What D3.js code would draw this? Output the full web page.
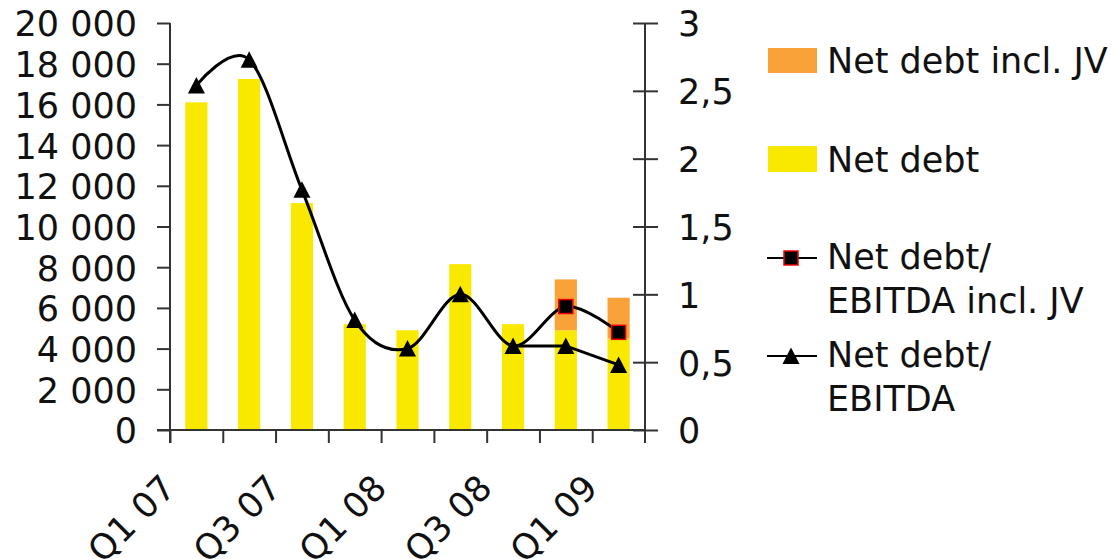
<!DOCTYPE html>
<html><head><meta charset="utf-8">
<script src="https://cdn.jsdelivr.net/npm/d3@7/dist/d3.min.js"></script>
<style>body{margin:0;background:#fff}svg{display:block}text{font-family:"DejaVu Sans",sans-serif;fill:#111}</style>
</head><body><svg id="c" width="1115" height="559"></svg>
<script>
// ---- data ----
const quarters = ["Q1 07","Q2 07","Q3 07","Q4 07","Q1 08","Q2 08","Q3 08","Q4 08","Q1 09"];
const shownLabels = ["Q1 07","Q3 07","Q1 08","Q3 08","Q1 09"];
const netDebt = [16100,17250,11150,5200,4900,8150,5200,4900,4500];
const netDebtInclJV = [null,null,null,null,null,null,null,7400,6500];
const ratio = [2.54,2.73,1.77,0.81,0.60,1.00,0.62,0.62,0.48];
const ratioInclJV = [2.54,2.73,1.77,0.81,0.60,1.00,0.62,0.91,0.72];
const leftTicks = [0,2000,4000,6000,8000,10000,12000,14000,16000,18000,20000];
const rightTicks = [0,0.5,1,1.5,2,2.5,3];
const legendItems = ["Net debt incl. JV","Net debt","Net debt/|EBITDA incl. JV","Net debt/|EBITDA"];

// ---- layout ----
const L = 170, R = 645, T = 23, B = 430;
const svg = d3.select("#c");
const loc = d3.formatLocale({decimal:",", thousands:" ", grouping:[3], currency:["",""]});
const fmtL = loc.format(",d");
const fmtR = v => loc.format("~g")(v);

const x = d3.scaleBand().domain(quarters).range([L,R]).paddingInner(0.58).paddingOuter(0.29);
const xEdge = d3.scaleLinear().domain([0, quarters.length]).range([L,R]);
const yL = d3.scaleLinear().domain([0,20000]).range([B,T]);
const yR = d3.scaleLinear().domain([0,3]).range([B,T]);
const cx = q => x(q) + x.bandwidth()/2;

const YELLOW = "#f9e800", ORANGE = "#f9a23a", AX = "#333";

// bars
svg.append("g").selectAll("rect").data(quarters).join("rect")
  .attr("x", q => x(q)).attr("width", x.bandwidth())
  .attr("y", (q,i) => yL(netDebt[i])).attr("height", (q,i) => yL(0) - yL(netDebt[i]))
  .attr("fill", YELLOW);
svg.append("g").selectAll("rect").data(quarters.filter((q,i)=>netDebtInclJV[i]!=null)).join("rect")
  .attr("x", q => x(q)).attr("width", x.bandwidth())
  .attr("y", q => yL(netDebtInclJV[quarters.indexOf(q)]))
  .attr("height", q => { const i = quarters.indexOf(q); return yL(netDebt[i]) - yL(netDebtInclJV[i]); })
  .attr("fill", ORANGE);

// left axis
const gL = svg.append("g").attr("transform", `translate(${L},0)`)
  .call(d3.axisLeft(yL).tickValues(leftTicks).tickFormat(fmtL).tickSize(13).tickPadding(20).tickSizeOuter(0));
gL.select(".domain").remove();
gL.selectAll("line").attr("stroke", AX).attr("stroke-width", 2);
gL.selectAll("text").style("font-size","35px").attr("dy","0.37em").attr("fill","#111");
svg.append("line").attr("x1",L).attr("x2",L).attr("y1",T).attr("y2",B+13).attr("stroke",AX).attr("stroke-width",2);

// right axis
const gR = svg.append("g").attr("transform", `translate(${R},0)`)
  .call(d3.axisRight(yR).tickValues(rightTicks).tickFormat(fmtR).tickSize(13).tickPadding(20).tickSizeOuter(0));
gR.select(".domain").remove();
gR.selectAll(".tick line").attr("x1",-12).attr("stroke", AX).attr("stroke-width", 2);
gR.selectAll("text").style("font-size","35px").attr("dy","0.37em").attr("fill","#111");
svg.append("line").attr("x1",R).attr("x2",R).attr("y1",T).attr("y2",B+13).attr("stroke",AX).attr("stroke-width",2);

// bottom axis
const gB = svg.append("g").attr("transform", `translate(0,${B})`)
  .call(d3.axisBottom(xEdge).tickValues(d3.range(0, quarters.length)).tickFormat("").tickSize(13).tickSizeOuter(0));
gB.select(".domain").remove();
gB.selectAll("line").attr("stroke", AX).attr("stroke-width", 2);
svg.append("line").attr("x1",L-13).attr("x2",R).attr("y1",B).attr("y2",B).attr("stroke",AX).attr("stroke-width",2);

// x labels
svg.append("g").selectAll("text").data(shownLabels).join("text")
  .attr("transform", q => `translate(${cx(q)-19},${B+60}) rotate(-45)`)
  .attr("text-anchor","end").style("font-size","35px").text(q => q);

// lines
const smooth = d3.line().x((d,i)=>cx(quarters[i])).y(d=>yR(d)).curve(d3.curveCardinal.tension(0));
svg.append("path").attr("d", smooth(ratioInclJV)).attr("fill","none").attr("stroke","#000").attr("stroke-width",3);
const straight = d3.line().defined((d,i)=>i>=6).x((d,i)=>cx(quarters[i])).y(d=>yR(d));
svg.append("path").attr("d", straight(ratio)).attr("fill","none").attr("stroke","#000").attr("stroke-width",3);

// markers
const tri = "M0,-8.5L8.5,8L-8.5,8Z";
svg.append("g").selectAll("path").data(ratio).join("path")
  .attr("d", tri).attr("transform",(d,i)=>`translate(${cx(quarters[i])},${yR(d)})`).attr("fill","#000");
svg.append("g").selectAll("rect").data(ratioInclJV.map((v,i)=>({v,i})).filter(d=>netDebtInclJV[d.i]!=null)).join("rect")
  .attr("x", d=>cx(quarters[d.i])-7).attr("y", d=>yR(d.v)-7).attr("width",14).attr("height",14)
  .attr("fill","#000").attr("stroke","#e00").attr("stroke-width",1.5);

// legend
const lg = svg.append("g");
lg.append("rect").attr("x",768).attr("y",48).attr("width",49).attr("height",25).attr("fill",ORANGE);
lg.append("rect").attr("x",768).attr("y",146).attr("width",49).attr("height",26).attr("fill",YELLOW);
lg.append("line").attr("x1",767).attr("x2",817).attr("y1",258).attr("y2",258).attr("stroke","#000").attr("stroke-width",2);
lg.append("rect").attr("x",784).attr("y",251).attr("width",14).attr("height",14).attr("fill","#000").attr("stroke","#e00").attr("stroke-width",1.5);
lg.append("line").attr("x1",767).attr("x2",817).attr("y1",356).attr("y2",356).attr("stroke","#000").attr("stroke-width",2);
lg.append("path").attr("d",tri).attr("transform","translate(791,356)").attr("fill","#000");
const textPos = [[73],[172],[269,313],[367,411]];
legendItems.forEach((t,k)=>{
  t.split("|").forEach((line,j)=>{
    lg.append("text").attr("x",827).attr("y",textPos[k][j]).style("font-size","35px").text(line);
  });
});
</script></body></html>
